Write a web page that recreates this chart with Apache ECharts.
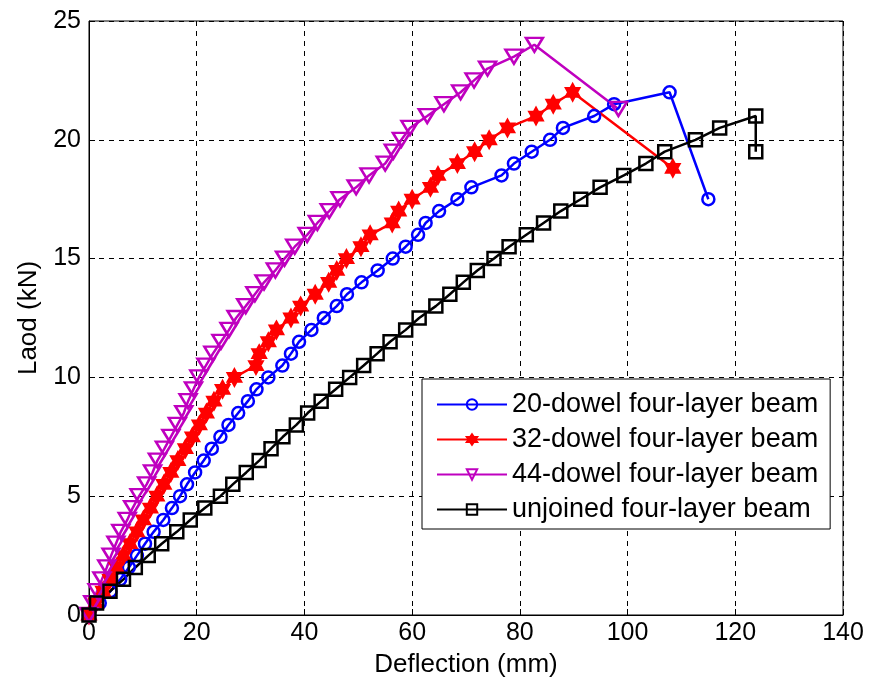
<!DOCTYPE html>
<html>
<head>
<meta charset="utf-8">
<script src="https://cdn.jsdelivr.net/npm/echarts@6/dist/echarts.min.js"></script>
<style>
html,body{margin:0;padding:0;background:#fff;}
#chart{width:870px;height:688px;}
</style>
</head>
<body>
<div id="chart"></div>
<script>
// ---- data ----
const seriesNames = ['20-dowel four-layer beam','32-dowel four-layer beam','44-dowel four-layer beam','unjoined four-layer beam'];

const dowel20X = [0,2.0,4.0,5.8,7.4,8.9,10.4,12.0,13.8,15.4,16.9,18.2,19.7,21.3,22.8,24.4,25.9,27.7,29.5,31.1,33.3,35.9,37.5,39.0,41.3,43.6,46.0,47.9,50.6,53.6,56.4,58.8,61.1,62.5,65.0,68.4,71.0,76.6,78.9,82.2,85.6,88.0,93.8,97.5,107.8,115.0];
const dowel20Y = [0,0.5,1,1.5,2,2.5,3,3.5,4,4.5,5,5.5,6,6.5,7,7.5,8,8.5,9,9.5,10,10.5,11,11.5,12,12.5,13,13.5,14,14.5,15,15.5,16,16.5,17,17.5,18,18.5,19,19.5,20,20.5,21,21.5,22,17.5];

const dowel32X = [0,1.3,2.6,3.9,5.1,6.4,7.6,8.9,10.1,11.4,12.6,13.9,15.2,16.5,17.9,19.2,20.5,21.8,23.2,24.8,27.0,31.0,31.6,33.3,34.8,37.5,39.3,42.0,44.5,46.0,47.8,50.5,52.2,56.3,57.5,60.0,63.4,64.8,68.4,71.6,74.3,77.7,83.0,86.2,89.8,108.4];
const dowel32Y = [0,0.5,1,1.5,2,2.5,3,3.5,4,4.5,5,5.5,6,6.5,7,7.5,8,8.5,9,9.5,10,10.5,11,11.5,12,12.5,13,13.5,14,14.5,15,15.5,16,16.5,17,17.5,18,18.5,19,19.5,20,20.5,21,21.5,22,18.8];

const dowel44X = [0,0.7,1.5,2.4,3.3,4.1,5.0,5.9,7.1,8.1,9.3,10.7,11.8,12.7,14.0,15.2,16.4,17.6,18.4,19.4,20.4,21.7,23.0,24.5,26.0,27.3,29.1,30.8,32.5,34.6,36.3,38.2,40.5,42.4,44.6,46.6,49.6,52.0,55.0,56.5,58.0,59.6,62.8,65.9,69.0,71.5,74.0,78.9,82.7,98.3];
const dowel44Y = [0,0.5,1,1.5,2,2.5,3,3.5,4,4.5,5,5.5,6,6.5,7,7.5,8,8.5,9,9.5,10,10.5,11,11.5,12,12.5,13,13.5,14,14.5,15,15.5,16,16.5,17,17.5,18,18.5,19,19.5,20,20.5,21,21.5,22,22.5,23,23.5,24,21.3];

const unjoinedX = [0,1.4,3.9,6.4,8.6,11.0,13.5,16.3,18.8,21.5,24.4,26.7,29.2,31.6,33.8,36.0,38.5,40.6,43.1,45.8,48.4,51.0,53.5,55.9,58.8,61.3,64.4,67.0,69.5,72.1,75.2,78.0,81.2,84.4,87.6,91.3,94.9,99.3,103.4,106.9,112.6,117.1,123.8,123.8];
const unjoinedY = [0,0.5,1,1.5,2,2.5,3,3.5,4,4.5,5,5.5,6,6.5,7,7.5,8,8.5,9,9.5,10,10.5,11,11.5,12,12.5,13,13.5,14,14.5,15,15.5,16,16.5,17,17.5,18,18.5,19,19.5,20,20.5,21,19.5];

const xTicks = [0,20,40,60,80,100,120,140];
const yTicks = [0,5,10,15,20,25];

// ---- chart ----
const pairs = (xs, ys) => xs.map((x, i) => [x, ys[i]]);
const FONT = '"Liberation Sans", Arial, Helvetica, sans-serif';
const hexagram = 'path://M100 0 L128.9 50 L186.6 50 L157.7 100 L186.6 150 L128.9 150 L100 200 L71.1 150 L13.4 150 L42.3 100 L13.4 50 L71.1 50 Z';
const triDown = 'path://M0 0 L200 0 L100 173 Z';

function mkSeries(name, xs, ys, color, symbol, size, filled) {
  return {
    name: name,
    type: 'line',
    data: pairs(xs, ys),
    symbol: symbol,
    symbolSize: size,
    showAllSymbol: true,
    animation: false,
    lineStyle: { color: color, width: 2.5 },
    itemStyle: { color: filled ? color : 'rgba(255,255,255,0)', borderColor: color, borderWidth: 2.5 },
    emphasis: { disabled: true }
  };
}

const chart = echarts.init(document.getElementById('chart'), null, { renderer: 'canvas' });
chart.setOption({
  backgroundColor: '#fff',
  animation: false,
  textStyle: { fontFamily: FONT },
  grid: { left: 89, right: 27, top: 21, bottom: 73, show: true, borderColor: '#000', borderWidth: 1, backgroundColor: '#fff' },
  xAxis: {
    type: 'value', min: 0, max: 140, interval: 20,
    name: 'Deflection (mm)', nameLocation: 'middle', nameGap: 37,
    nameTextStyle: { fontSize: 26, color: '#000', fontFamily: FONT },
    axisLine: { show: true, onZero: false, lineStyle: { color: '#000', width: 1 } },
    axisTick: { show: true, inside: true, length: 6, lineStyle: { color: '#000' } },
    axisLabel: { fontSize: 25, color: '#000', margin: 6, fontFamily: FONT,
      formatter: v => xTicks.includes(v) ? String(v) : '' },
    splitLine: { show: true, lineStyle: { color: '#000', type: [5, 5], width: 1 } }
  },
  yAxis: {
    type: 'value', min: 0, max: 25, interval: 5,
    name: 'Laod (kN)', nameLocation: 'middle', nameGap: 47,
    nameTextStyle: { fontSize: 26, color: '#000', fontFamily: FONT },
    axisLine: { show: true, onZero: false, lineStyle: { color: '#000', width: 1 } },
    axisTick: { show: true, inside: true, length: 6, lineStyle: { color: '#000' } },
    axisLabel: { fontSize: 25, color: '#000', margin: 8, fontFamily: FONT,
      formatter: v => yTicks.includes(v) ? String(v) : '' },
    splitLine: { show: true, lineStyle: { color: '#000', type: [5, 5], width: 1 } }
  },
  legend: {
    orient: 'vertical',
    left: 422, top: 379,
    data: seriesNames,
    backgroundColor: '#fff',
    borderColor: '#000', borderWidth: 1,
    padding: [12, 12, 6, 14],
    itemWidth: 70, itemHeight: 13,
    itemGap: 8,
    textStyle: { fontSize: 27, color: '#000', fontFamily: FONT, lineHeight: 24 },
    selectedMode: false
  },
  series: [
    mkSeries(seriesNames[0], dowel20X, dowel20Y, '#0000ff', 'circle', 12, false),
    mkSeries(seriesNames[1], dowel32X, dowel32Y, '#ff0000', hexagram, [13, 16], true),
    mkSeries(seriesNames[2], dowel44X, dowel44Y, '#bf00bf', triDown, [17, 14], false),
    mkSeries(seriesNames[3], unjoinedX, unjoinedY, '#000000', 'rect', 13, false)
  ]
});
</script>
</body>
</html>
